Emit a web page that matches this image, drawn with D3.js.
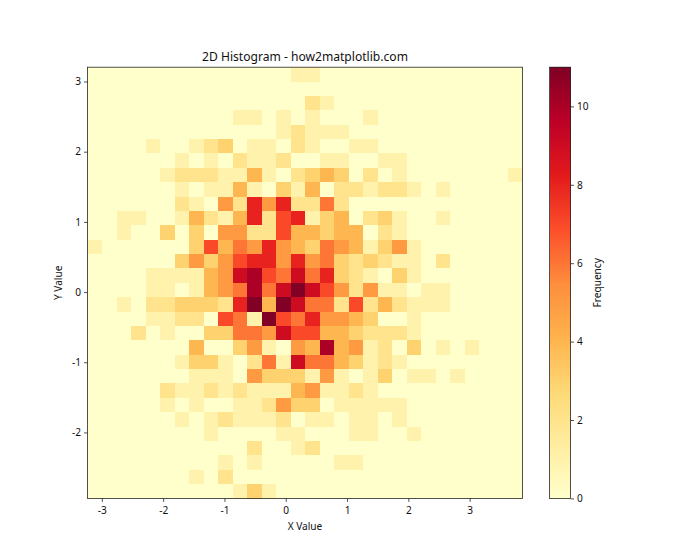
<!DOCTYPE html>
<html><head><meta charset="utf-8">
<script src="https://cdnjs.cloudflare.com/ajax/libs/d3/7.8.5/d3.min.js"></script>
<style>html,body{margin:0;padding:0;background:#fff}svg{display:block}text{font-family:"Noto Sans",sans-serif;fill:#111}</style>
</head><body><svg id="c" width="700" height="560"></svg>
<script>
const titleText = "2D Histogram - how2matplotlib.com";
const xLabel = "X Value", yLabel = "Y Value", cbarLabel = "Frequency";
const xTicks = [-3,-2,-1,0,1,2,3];
const yTicks = [-2,-1,0,1,2,3];
const cbarTicks = [0,2,4,6,8,10];
const xDomain = [-3.234, 3.862];
const yDomain = [-2.94, 3.204];
const maxCount = 11;
const palette = ["#ffffcc","#ffeda0","#fed976","#feb24c","#fd8d3c","#fc4e2a","#e31a1c","#bd0026","#800026"];
// counts per bin; first row is the top of the plot
const counts = [
[0,0,0,0,0,0,0,0,0,0,0,0,0,0,1,1,0,0,0,0,0,0,0,0,0,0,0,0,0,0],
[0,0,0,0,0,0,0,0,0,0,0,0,0,0,0,0,0,0,0,0,0,0,0,0,0,0,0,0,0,0],
[0,0,0,0,0,0,0,0,0,0,0,0,0,0,0,2,1,0,0,0,0,0,0,0,0,0,0,0,0,0],
[0,0,0,0,0,0,0,0,0,0,1,1,0,1,0,1,0,0,0,1,0,0,0,0,0,0,0,0,0,0],
[0,0,0,0,0,0,0,0,0,0,0,0,0,1,2,1,1,1,0,0,0,0,0,0,0,0,0,0,0,0],
[0,0,0,0,1,0,0,1,2,3,0,1,1,0,2,1,0,0,1,1,0,0,0,0,0,0,0,0,0,0],
[0,0,0,0,0,0,1,0,1,0,2,1,1,2,0,0,1,1,0,0,1,1,0,0,0,0,0,0,0,0],
[0,0,0,0,0,1,2,2,2,1,1,4,1,0,2,3,4,3,0,2,0,1,0,0,0,0,0,0,0,1],
[0,0,0,0,0,0,1,0,1,1,4,1,0,3,1,4,0,2,2,1,2,2,1,0,1,0,0,0,0,0],
[0,0,0,0,0,0,2,1,0,5,2,8,5,8,2,2,6,2,0,0,0,0,0,0,0,0,0,0,0,0],
[0,0,1,1,0,0,1,4,2,1,4,8,2,7,8,1,3,4,0,2,3,1,0,0,1,0,0,0,0,0],
[0,0,1,0,0,3,0,3,0,5,5,2,2,7,4,4,3,4,4,0,2,1,0,0,0,0,0,0,0,0],
[1,0,0,0,0,0,0,3,7,4,6,5,8,5,4,3,6,5,4,1,3,5,1,0,0,0,0,0,0,0],
[0,0,0,0,0,0,3,5,3,5,7,8,8,5,8,5,6,3,2,3,2,1,1,0,2,0,0,0,0,0],
[0,0,0,0,1,1,1,1,4,5,9,10,7,6,9,6,8,3,2,1,0,3,1,0,0,0,0,0,0,0],
[0,0,0,0,1,1,0,1,4,5,6,10,6,9,11,9,7,5,2,5,1,1,0,1,1,0,0,0,0,0],
[0,0,1,0,2,2,3,3,3,2,8,11,4,11,9,6,6,2,7,2,4,2,1,1,1,0,0,0,0,0],
[0,0,0,0,1,1,2,2,0,7,6,1,11,7,6,8,5,5,4,3,0,0,1,0,0,0,0,0,0,0],
[0,0,0,2,0,1,0,0,3,3,6,6,5,9,7,7,4,4,3,2,2,2,1,0,0,0,0,0,0,0],
[0,0,0,0,0,0,0,4,0,0,3,5,1,0,5,4,10,4,5,1,2,0,3,0,1,0,1,0,0,0],
[0,0,0,0,0,0,1,3,3,1,0,2,6,1,9,6,6,4,3,1,2,1,0,0,0,0,0,0,0,0],
[0,0,0,0,0,0,0,1,1,1,0,5,3,3,3,1,5,1,0,1,3,0,1,1,0,1,0,0,0,0],
[0,0,0,0,0,2,1,1,2,1,2,1,1,1,4,5,1,1,2,1,0,0,0,0,0,0,0,0,0,0],
[0,0,0,0,0,1,0,1,0,0,1,1,2,5,3,3,0,1,1,1,1,1,0,0,0,0,0,0,0,0],
[0,0,0,0,0,0,1,0,1,2,1,1,1,2,0,1,1,0,1,1,0,1,0,0,0,0,0,0,0,0],
[0,0,0,0,0,0,0,0,1,0,0,0,0,1,1,0,0,0,1,1,0,0,1,0,0,0,0,0,0,0],
[0,0,0,0,0,0,0,0,0,0,0,2,0,0,1,2,0,0,0,0,0,0,0,0,0,0,0,0,0,0],
[0,0,0,0,0,0,0,0,0,1,0,1,0,0,0,0,0,1,1,0,0,0,0,0,0,0,0,0,0,0],
[0,0,0,0,0,0,0,1,0,2,0,0,0,0,0,0,0,0,0,0,0,0,0,0,0,0,0,0,0,0],
[0,0,0,0,0,0,0,0,0,0,1,3,1,0,0,0,0,0,0,0,0,0,0,0,0,0,0,0,0,0]
];

const L=87.5,R=522.5,T=67.2,B=498.4,cL=549.5,cR=570.5;
const ink="#262626";
const svg=d3.select("#c");
const x=d3.scaleLinear().domain(xDomain).range([L,R]);
const y=d3.scaleLinear().domain(yDomain).range([B,T]);
const bx=d3.scaleBand().domain(d3.range(counts[0].length)).range([L,R]);
const by=d3.scaleBand().domain(d3.range(counts.length)).range([T,B]);
const color=d3.scaleLinear().domain(palette.map((_,i)=>i/(palette.length-1)*maxCount)).range(palette);
const fmt=d=>String(d);

const cells=counts.flatMap((row,r)=>row.map((v,c)=>({r,c,v})));
svg.append("g").attr("shape-rendering","crispEdges").selectAll("rect").data(cells).join("rect")
 .attr("x",d=>bx(d.c)).attr("y",d=>by(d.r)).attr("width",bx.bandwidth()+.5).attr("height",by.bandwidth()+.5)
 .attr("fill",d=>color(d.v));

function style(g){g.select(".domain").remove();g.selectAll("line").attr("stroke",ink).attr("stroke-width",.8);g.selectAll("text").style("font-size","10.1px").attr("fill","#111");}
svg.append("g").attr("transform",`translate(0,${B})`).call(d3.axisBottom(x).tickValues(xTicks).tickSize(3.5).tickPadding(5).tickFormat(fmt)).call(style);
svg.append("g").attr("transform",`translate(${L},0)`).call(d3.axisLeft(y).tickValues(yTicks).tickSize(3.5).tickPadding(3).tickFormat(fmt)).call(style);
svg.append("rect").attr("x",L).attr("y",T).attr("width",R-L).attr("height",B-T).attr("fill","none").attr("stroke",ink).attr("stroke-width",.8);

// colorbar
const cy=d3.scaleLinear().domain([0,maxCount]).range([B,T]);
const steps=d3.range(0,256);
svg.append("g").attr("shape-rendering","crispEdges").selectAll("rect").data(steps).join("rect")
 .attr("x",cL).attr("width",cR-cL).attr("y",d=>cy((d+1)/256*maxCount)).attr("height",(B-T)/256+.6)
 .attr("fill",d=>color((d+.5)/256*maxCount));
svg.append("g").attr("transform",`translate(${cR},0)`).call(d3.axisRight(cy).tickValues(cbarTicks).tickSize(3.5).tickPadding(3).tickFormat(fmt)).call(style);
svg.append("rect").attr("x",cL).attr("y",T).attr("width",cR-cL).attr("height",B-T).attr("fill","none").attr("stroke",ink).attr("stroke-width",.8);

svg.append("text").attr("x",(L+R)/2).attr("y",61).attr("text-anchor","middle").style("font-size","12.1px").text(titleText);
svg.append("text").attr("x",(L+R)/2).attr("y",530).attr("text-anchor","middle").style("font-size","10.1px").text(xLabel);
svg.append("text").attr("transform",`translate(62,${(T+B)/2}) rotate(-90)`).attr("text-anchor","middle").style("font-size","10.1px").text(yLabel);
svg.append("text").attr("transform",`translate(601,${(T+B)/2}) rotate(-90)`).attr("text-anchor","middle").style("font-size","10.1px").text(cbarLabel);
</script></body></html>
